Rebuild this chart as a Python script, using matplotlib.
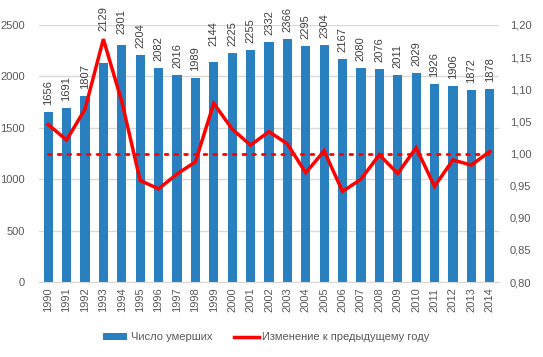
import matplotlib
matplotlib.use("Agg")
import matplotlib.pyplot as plt
from matplotlib.ticker import FuncFormatter, MultipleLocator
import numpy as np

years = [str(y) for y in range(1990, 2015)]
deaths = [1656, 1691, 1807, 2129, 2301, 2204, 2082, 2016, 1989, 2144, 2225, 2255,
          2332, 2366, 2295, 2304, 2167, 2080, 2076, 2011, 2029, 1926, 1906, 1872, 1878]
change = [1.045, 1.021, 1.069, 1.178, 1.081, 0.958, 0.945, 0.968, 0.987, 1.078,
          1.038, 1.013, 1.034, 1.015, 0.970, 1.004, 0.941, 0.960, 0.998, 0.969,
          1.009, 0.949, 0.990, 0.982, 1.003]
baseline = 1.00

plt.rcParams['font.family'] = ['Liberation Sans', 'DejaVu Sans']
gray = '#595959'
blue = '#2980c0'
red = '#ff0000'

fig = plt.figure(figsize=(5.43, 3.57), dpi=100)
ax = fig.add_axes([0.0718, 0.21, 0.847, 0.72])
x = np.arange(len(years))
bars = ax.bar(x, deaths, width=0.5, color=blue, label='Число умерших', zorder=2)
ax.set_ylim(0, 2500)
ax.set_xlim(-0.5, len(years) - 0.5)
ax.yaxis.set_major_locator(MultipleLocator(500))
ax.grid(axis='y', color='#d9d9d9', linewidth=1, zorder=0)
ax.set_axisbelow(True)
for s in ['top', 'right', 'left']:
    ax.spines[s].set_visible(False)
ax.spines['bottom'].set_color('#d9d9d9')
ax.tick_params(axis='both', length=0, colors=gray, labelsize=8)
ax.set_xticks(x)
ax.set_xticklabels(years, rotation=90)
ax.tick_params(axis='x', pad=4)
ax.tick_params(axis='y', pad=10)
extra = {3: 18, 4: 3, 9: 6}
for i, (xi, v) in enumerate(zip(x, deaths)):
    ax.annotate(str(v), (xi, v), xytext=(0, 5 + extra.get(i, 0)), textcoords='offset points',
                rotation=90, ha='center', va='bottom', fontsize=8, color='#404040',
                zorder=3, annotation_clip=False)

ax2 = ax.twinx()
ax2.set_ylim(0.80, 1.20)
ax2.yaxis.set_major_locator(MultipleLocator(0.05))
ax2.yaxis.set_major_formatter(FuncFormatter(lambda v, p: f"{v:.2f}".replace('.', ',')))
for s in ['top', 'right', 'left', 'bottom']:
    ax2.spines[s].set_visible(False)
ax2.tick_params(axis='y', length=0, colors=gray, labelsize=8, pad=8)
line, = ax2.plot(x, change, color=red, linewidth=2.5, label='Изменение к предыдущему году',
                 zorder=4, solid_joinstyle='miter')
ax2.plot(x, [baseline] * len(x), color=red, linewidth=2, linestyle=(0, (1, 2.5)),
         dash_capstyle='round', zorder=3)

fig.legend(handles=[bars, line], loc='center', bbox_to_anchor=(0.49, 0.055), ncol=2,
           frameon=False, fontsize=8, labelcolor=gray, handlelength=2.2, handleheight=0.5,
           columnspacing=2.0, handletextpad=0.3)

fig.savefig('out.png', dpi=100)
